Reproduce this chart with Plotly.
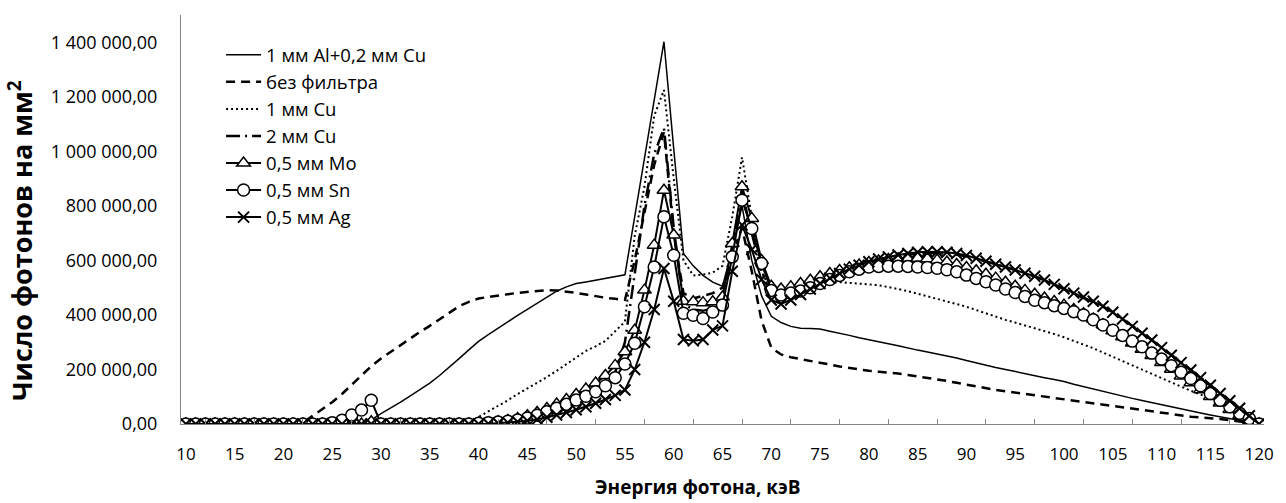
import plotly.graph_objects as go

energy = list(range(10, 121))

# 1 мм Al+0,2 мм Cu
al_cu = [0]*18 + [
    3000, 15000, 38000, 58000, 80000, 103000, 127000, 150000, 178000, 208000,   # 28-37
    240000, 272000, 303000, 328000, 352000, 375000, 398000, 420000, 443000, 466000,  # 38-47
    487000, 503000, 515000, 521000, 527000, 533000, 540000, 547000, 760000, 975000,  # 48-57
    1190000, 1402000, 1010000, 625000, 580000, 545000, 520000, 505000, 640000, 800000,  # 58-67
    600000, 470000, 395000, 372000, 358000, 351000, 350000, 348000, 340000, 333000,  # 68-77
    325000, 316000, 308000, 301000, 294000, 287000, 278000, 271000, 264000, 257000,  # 78-87
    251000, 242000, 233000, 224000, 215000, 207000, 200000, 192000, 185000, 178000,  # 88-97
    170000, 163000, 156000, 146000, 137000, 128000, 119000, 110000, 102000, 94000,   # 98-107
    86000, 78000, 70000, 62000, 54000, 47000, 40000, 33000, 26000, 19000,            # 108-117
    12000, 6000, 0]                                                                  # 118-120

# без фильтра
no_filter = [0]*12 + [
    5000, 30000, 55000, 80000, 110000, 145000, 180000, 212000,                       # 22-29
    240000, 265000, 290000, 315000, 338000, 360000, 385000, 410000, 432000, 448000,  # 30-39
    460000, 466000, 470000, 476000, 481000, 485000, 488000, 491000, 490000, 486000,  # 40-49
    481000, 475000, 468000, 463000, 459000, 455000, 600000, 780000, 950000, 1070000,  # 50-59
    700000, 480000, 460000, 470000, 480000, 500000, 620000, 720000, 560000, 380000,  # 60-69
    280000, 255000, 245000, 238000, 232000, 226000, 218000, 211000, 205000, 199000,  # 70-79
    195000, 192000, 189000, 185000, 180000, 175000, 169000, 164000, 158000, 151000,  # 80-89
    144000, 138000, 131000, 125000, 120000, 115000, 110000, 105000, 100000, 96000,   # 90-99
    91000, 86000, 81000, 76000, 71000, 66000, 61000, 56000, 51000, 46000,            # 100-109
    41000, 36000, 31000, 27000, 24000, 22000, 18000, 14000, 9000, 4000,              # 110-119
    0]

# 1 мм Cu
cu1 = [0]*29 + [
    5000,                                                                            # 39
    25000, 45000, 65000, 87000, 110000, 130000, 150000, 172000, 195000, 220000,      # 40-49
    245000, 268000, 285000, 305000, 340000, 375000, 690000, 870000, 1130000, 1225000,  # 50-59
    900000, 600000, 545000, 548000, 555000, 580000, 760000, 978000, 760000, 560000,  # 60-69
    485000, 478000, 485000, 495000, 505000, 512000, 518000, 520000, 518000, 515000,  # 70-79
    512000, 509000, 503000, 495000, 487000, 478000, 468000, 459000, 450000, 440000,  # 80-89
    430000, 418000, 405000, 393000, 382000, 372000, 362000, 352000, 342000, 330000,  # 90-99
    318000, 305000, 292000, 278000, 262000, 246000, 230000, 215000, 200000, 185000,  # 100-109
    168000, 152000, 137000, 122000, 108000, 95000, 80000, 62000, 42000, 20000,       # 110-119
    0]

# 2 мм Cu
cu2 = [0]*34 + [
    2000,                                                                            # 44
    15000, 22000, 32000, 45000, 58000,                                               # 45-49
    75000, 92000, 112000, 140000, 190000, 300000, 560000, 800000, 990000, 1085000,   # 50-59
    720000, 440000, 420000, 415000, 425000, 450000, 640000, 850000, 700000, 560000,  # 60-69
    470000, 460000, 470000, 485000, 502000, 520000, 537000, 553000, 568000, 582000,  # 70-79
    595000, 604000, 611000, 617000, 621000, 625000, 627000, 627000, 625000, 621000,  # 80-89
    615000, 606000, 596000, 586000, 576000, 565000, 553000, 541000, 527000, 511000,  # 90-99
    495000, 479000, 464000, 448000, 430000, 410000, 386000, 360000, 334000, 308000,  # 100-109
    282000, 254000, 226000, 199000, 171000, 143000, 114000, 86000, 58000, 30000,     # 110-119
    0]

# 0,5 мм Mo
mo = [0]*19 + [8000] + [0]*10 + [
    3000, 5000, 8000, 13000, 20000, 30000, 42000, 57000, 73000, 90000,               # 40-49
    108000, 128000, 150000, 178000, 215000, 265000, 344000, 491000, 656000, 857000,  # 50-59
    693000, 450000, 448000, 445000, 448000, 466000, 662000, 870000, 754000, 600000,  # 60-69
    505000, 495000, 503000, 515000, 527000, 540000, 552000, 563000, 573000, 583000,  # 70-79
    592000, 598000, 603000, 606000, 608000, 608000, 606000, 601000, 594000, 585000,  # 80-89
    574000, 562000, 549000, 535000, 520000, 505000, 490000, 476000, 462000, 449000,  # 90-99
    436000, 420000, 404000, 385000, 364000, 342000, 320000, 297000, 274000, 251000,  # 100-109
    226000, 201000, 176000, 151000, 126000, 101000, 77000, 53000, 31000, 14000,      # 110-119
    0]

# 0,5 мм Sn
sn = [0]*15 + [5000, 14000, 33000, 51000, 87000] + [0]*10 + [
    3000, 5000, 7000, 10000, 15000, 22000, 32000, 45000, 58000, 72000,               # 40-49
    88000, 102000, 118000, 140000, 170000, 220000, 296000, 430000, 576000, 760000,   # 50-59
    619000, 406000, 399000, 387000, 411000, 436000, 613000, 821000, 717000, 589000,  # 60-69
    490000, 473000, 480000, 488000, 500000, 515000, 530000, 545000, 558000, 568000,  # 70-79
    576000, 578000, 579000, 579000, 578000, 576000, 574000, 571000, 566000, 558000,  # 80-89
    546000, 534000, 522000, 510000, 495000, 482000, 468000, 454000, 445000, 434000,  # 90-99
    424000, 412000, 400000, 382000, 363000, 344000, 325000, 304000, 283000, 260000,  # 100-109
    238000, 214000, 190000, 167000, 140000, 112000, 87000, 63000, 39000, 20000,      # 110-119
    0]

# 0,5 мм Ag
ag = [0]*31 + [
    1000, 3000, 5000, 8000, 12000, 17000, 25000, 33000, 42000,                       # 41-49
    52000, 63000, 76000, 90000, 105000, 125000, 200000, 300000, 420000, 570000,      # 50-59
    450000, 310000, 305000, 310000, 345000, 360000, 560000, 730000, 640000, 530000,  # 60-69
    455000, 440000, 455000, 475000, 495000, 515000, 535000, 552000, 568000, 582000,  # 70-79
    595000, 605000, 613000, 620000, 625000, 630000, 632000, 632000, 630000, 625000,  # 80-89
    618000, 608000, 597000, 586000, 576000, 565000, 553000, 542000, 528000, 512000,  # 90-99
    496000, 480000, 466000, 450000, 432000, 410000, 385000, 358000, 333000, 308000,  # 100-109
    280000, 252000, 225000, 198000, 170000, 142000, 112000, 85000, 58000, 30000,     # 110-119
    0]

y_tick_vals = [0, 200000, 400000, 600000, 800000, 1000000, 1200000, 1400000]
y_tick_text = ["0,00", "200 000,00", "400 000,00", "600 000,00", "800 000,00",
               "1 000 000,00", "1 200 000,00", "1 400 000,00"]
x_tick_vals = list(range(10, 121, 5))

names = ["1 мм Al+0,2 мм Cu", "без фильтра", "1 мм Cu", "2 мм Cu",
         "0,5 мм Mo", "0,5 мм Sn", "0,5 мм Ag"]

fig = go.Figure()
fig.add_trace(go.Scatter(x=energy, y=al_cu, name=names[0], mode="lines",
                         line=dict(color="black", width=1.5)))
fig.add_trace(go.Scatter(x=energy, y=no_filter, name=names[1], mode="lines",
                         line=dict(color="black", width=2.5, dash="9px,6px")))
fig.add_trace(go.Scatter(x=energy, y=cu1, name=names[2], mode="lines",
                         line=dict(color="black", width=2, dash="2px,3px")))
fig.add_trace(go.Scatter(x=energy, y=cu2, name=names[3], mode="lines",
                         line=dict(color="black", width=2.5, dash="14px,5px,2px,5px")))
fig.add_trace(go.Scatter(x=energy, y=mo, name=names[4], mode="lines+markers",
                         line=dict(color="black", width=2),
                         marker=dict(symbol="triangle-up", size=12, color="white",
                                     line=dict(color="black", width=1.5))))
fig.add_trace(go.Scatter(x=energy, y=sn, name=names[5], mode="lines+markers",
                         line=dict(color="black", width=2),
                         marker=dict(symbol="circle", size=12, color="white",
                                     line=dict(color="black", width=1.5))))
fig.add_trace(go.Scatter(x=energy, y=ag, name=names[6], mode="lines+markers",
                         line=dict(color="black", width=2),
                         marker=dict(symbol="x-thin", size=11, color="black",
                                     line=dict(color="black", width=2))))

fig.update_layout(
    width=1286, height=503,
    margin=dict(l=181, r=15, t=15, b=79),
    paper_bgcolor="white", plot_bgcolor="white",
    font=dict(family="Open Sans, sans-serif", size=17, color="black"),
    showlegend=True,
    legend=dict(x=0.037, y=0.948, xanchor="left", yanchor="top",
                bgcolor="rgba(0,0,0,0)", font=dict(size=18.5),
                itemwidth=35, tracegroupgap=0),
    xaxis=dict(range=[9.5, 120.5], tickmode="array", tickvals=x_tick_vals,
               ticks="", showgrid=False, zeroline=False,
               showline=True, linecolor="#868686", linewidth=1,
               tickfont=dict(size=17), ticklabelstandoff=15,
               minor=dict(tick0=12, dtick=5, ticks="inside", ticklen=5,
                          tickcolor="#868686", showgrid=False)),
    yaxis=dict(range=[0, 1500000], tickmode="array", tickvals=y_tick_vals,
               ticktext=y_tick_text, ticks="", showgrid=False, zeroline=False,
               showline=True, linecolor="#868686", linewidth=1,
               tickfont=dict(size=18), ticklabelstandoff=19),
)

fig.add_annotation(text="<b>Энергия фотона, кэВ</b>", xref="paper", yref="paper",
                   x=(701 - 181) / 1090, y=-(487 - 424) / 409, showarrow=False,
                   font=dict(size=19), xanchor="center", yanchor="middle")
fig.add_annotation(text="<b>Число фотонов на мм<sup>2</sup></b>", xref="paper", yref="paper",
                   x=-(181 - 19) / 1090, y=(424 - 241) / 409, showarrow=False,
                   textangle=-90, font=dict(size=27), xanchor="center", yanchor="middle")

fig.write_html("out.html", config={"displayModeBar": False},
               post_script="document.body.style.margin='0px';document.body.style.overflow='hidden';")
